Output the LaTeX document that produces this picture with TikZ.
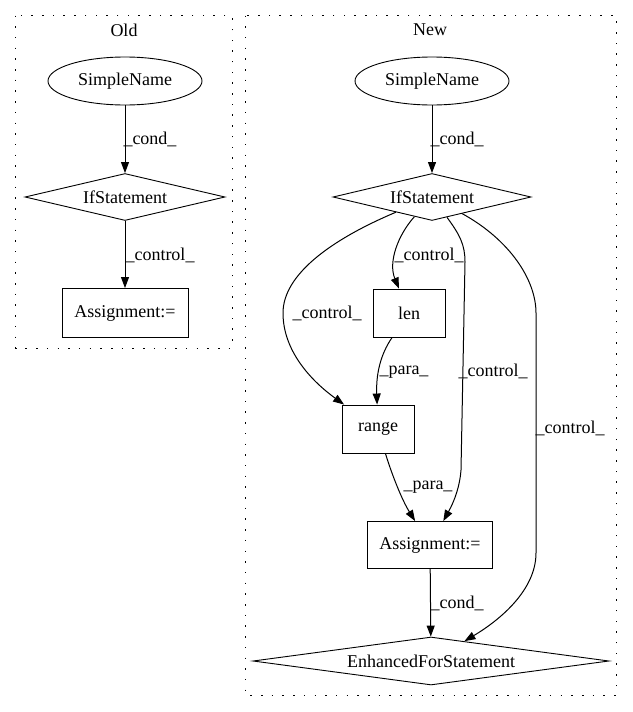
\documentclass[tikz,border=0pt]{standalone}
\usepackage{fontspec}
\setmainfont{Liberation Serif}
\usetikzlibrary{shapes.geometric,arrows.meta,calc}
\begin{document}
\begin{tikzpicture}[x=1pt,y=-1pt,
  every node/.style={font=\fontsize{18}{21}\selectfont},
  ell/.style={draw,ellipse,line width=0.9pt,minimum width=154pt,minimum height=48pt,inner sep=0pt},
  dia/.style={draw,diamond,line width=0.9pt,inner sep=0pt},
  box/.style={draw,rectangle,line width=0.9pt,inner sep=0pt},
  edge/.style={line width=1pt,-{Triangle[length=11pt,width=8pt]}},
  lbl/.style={inner sep=0pt},
  cluster/.style={line width=1pt,dash pattern=on 1.5pt off 9.2pt}
]
\useasboundingbox (0,0) rectangle (632,712);
% clusters
\draw[cluster] (15.5,15.5) rectangle (232,348);
\draw[cluster] (245,15.5) rectangle (616,695);
\node (tOld) at (124,30) {Old};
\node (tNew) at (430,30) {New};
% Old
\node[ell] (oS) at (125,81) {SimpleName};
\node[dia,minimum width=200pt,minimum height=47pt] (oI) at (125,197) {\makebox[0pt]{IfStatement}};
\node[box,minimum width=126pt,minimum height=49pt] (oA) at (125,313) {Assignment:=};
% New
\node[ell] (nS) at (432,81) {SimpleName};
\node[dia,minimum width=198pt,minimum height=47pt] (nI) at (432,197) {\makebox[0pt]{IfStatement}};
\node[box,minimum width=72pt,minimum height=48pt] (len) at (409,313) {len};
\node[box,minimum width=72pt,minimum height=48pt] (range) at (378,429) {range};
\node[box,minimum width=125pt,minimum height=47pt] (nA) at (430,545) {Assignment:=};
\node[dia,minimum width=356pt,minimum height=48pt] (nE) at (431,661) {\makebox[0pt]{EnhancedForStatement}};
% Old edges
\draw[edge] (oS) -- (oI);
\node[lbl] (l1) at (150,139) {\_cond\_};
\draw[edge] (oI) -- (oA);
\node[lbl] (l2) at (160,255) {\_control\_};
% New edges
\draw[edge] (nS) -- (nI);
\node[lbl] (l3) at (457,139) {\_cond\_};
\draw[edge] (nI) .. controls (398,235) and (388,262) .. (len);
\node[lbl] (l4) at (429,255) {\_control\_};
\draw[edge] (nI) .. controls (330,240) and (283,275) .. (283,313) .. controls (283,350) and (310,380) .. (range);
\node[lbl] (l5) at (327,313) {\_control\_};
\draw[edge] (nI) .. controls (460,235) and (465,245) .. (465,262) -- (461,470) .. controls (460,485) and (455,500) .. (nA);
\node[lbl] (l6) at (493,371) {\_control\_};
\draw[edge] (nI) .. controls (510,240) and (536,280) .. (536,313) -- (536,553) .. controls (536,590) and (500,620) .. (nE);
\node[lbl] (l7) at (570,428) {\_control\_};
\draw[edge] (len) .. controls (380,355) and (376,375) .. (range);
\node[lbl] (l8) at (404,372) {\_para\_};
\draw[edge] (range) .. controls (392,475) and (402,500) .. (nA);
\node[lbl] (l9) at (428,487) {\_para\_};
\draw[edge] (nA) -- (nE);
\node[lbl] (l10) at (457,603) {\_cond\_};
\end{tikzpicture}
\end{document}
